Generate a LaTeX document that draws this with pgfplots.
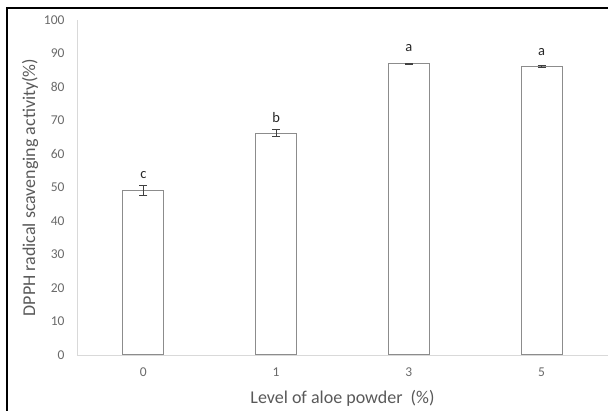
\documentclass[border=0pt]{standalone}
\usepackage{pgfplots}
\pgfplotsset{compat=1.18}
\usepackage{fontspec}
\setmainfont{Carlito}
\definecolor{txtgray}{HTML}{595959}
\definecolor{axgray}{HTML}{D9D9D9}
\definecolor{bargray}{HTML}{8C8C8C}
\definecolor{errgray}{HTML}{404040}
\begin{document}
\begin{tikzpicture}[x=1pt,y=1pt]
\useasboundingbox (0,0) rectangle (608,411);
\draw[black,line width=1.5pt] (7,0) -- (7,403) -- (608,403);
\begin{axis}[
  at={(77pt,56pt)}, anchor=south west,
  scale only axis, width=531pt, height=335pt,
  ybar, bar width=41pt,
  xmin=-0.5, xmax=3.5, ymin=0, ymax=100,
  xtick={0,1,2,3}, xticklabels={0,1,3,5},
  ytick={0,10,...,100},
  axis x line=bottom, axis y line=left,
  axis line style={axgray, line width=0.8pt, -},
  major tick length=0pt,
  /pgf/number format/assume math mode=true,
  tick label style={font=\fontsize{13.5}{15}\selectfont, color=txtgray!90},
  yticklabel style={xshift=-9pt},
  xticklabel style={yshift=-9pt},
  xlabel={Level of aloe powder\ \ (\%)},
  ylabel={DPPH radical scavenging activity(\%)},
  label style={font=\fontsize{18}{21}\selectfont, color=txtgray},
  xlabel style={at={(axis description cs:0.5,0)}, anchor=center, yshift=-43pt},
  ylabel style={at={(axis description cs:0,0.5)}, anchor=center, rotate=0, xshift=0pt, yshift=47pt},
  clip=false,
]
\addplot[draw=bargray, fill=white, line width=1pt,
  error bars/.cd, y dir=both, y explicit,
  error bar style={errgray, line width=0.9pt},
  error mark options={rotate=90, mark size=4pt, errgray, line width=0.9pt}]
  coordinates {
  (0,49.0) +- (0,1.5)
  (1,66.2) +- (0,1.0)
  (2,86.9) +- (0,0.25)
  (3,86.1) +- (0,0.3)
};
\node[font=\fontsize{14.5}{17}\selectfont, color=black!85] at (axis cs:0,53.6) {c};
\node[font=\fontsize{14.5}{17}\selectfont, color=black!85] at (axis cs:1,70.8) {b};
\node[font=\fontsize{14.5}{17}\selectfont, color=black!85] at (axis cs:2,91.5) {a};
\node[font=\fontsize{14.5}{17}\selectfont, color=black!85] at (axis cs:3,90.5) {a};
\end{axis}
\end{tikzpicture}
\end{document}
